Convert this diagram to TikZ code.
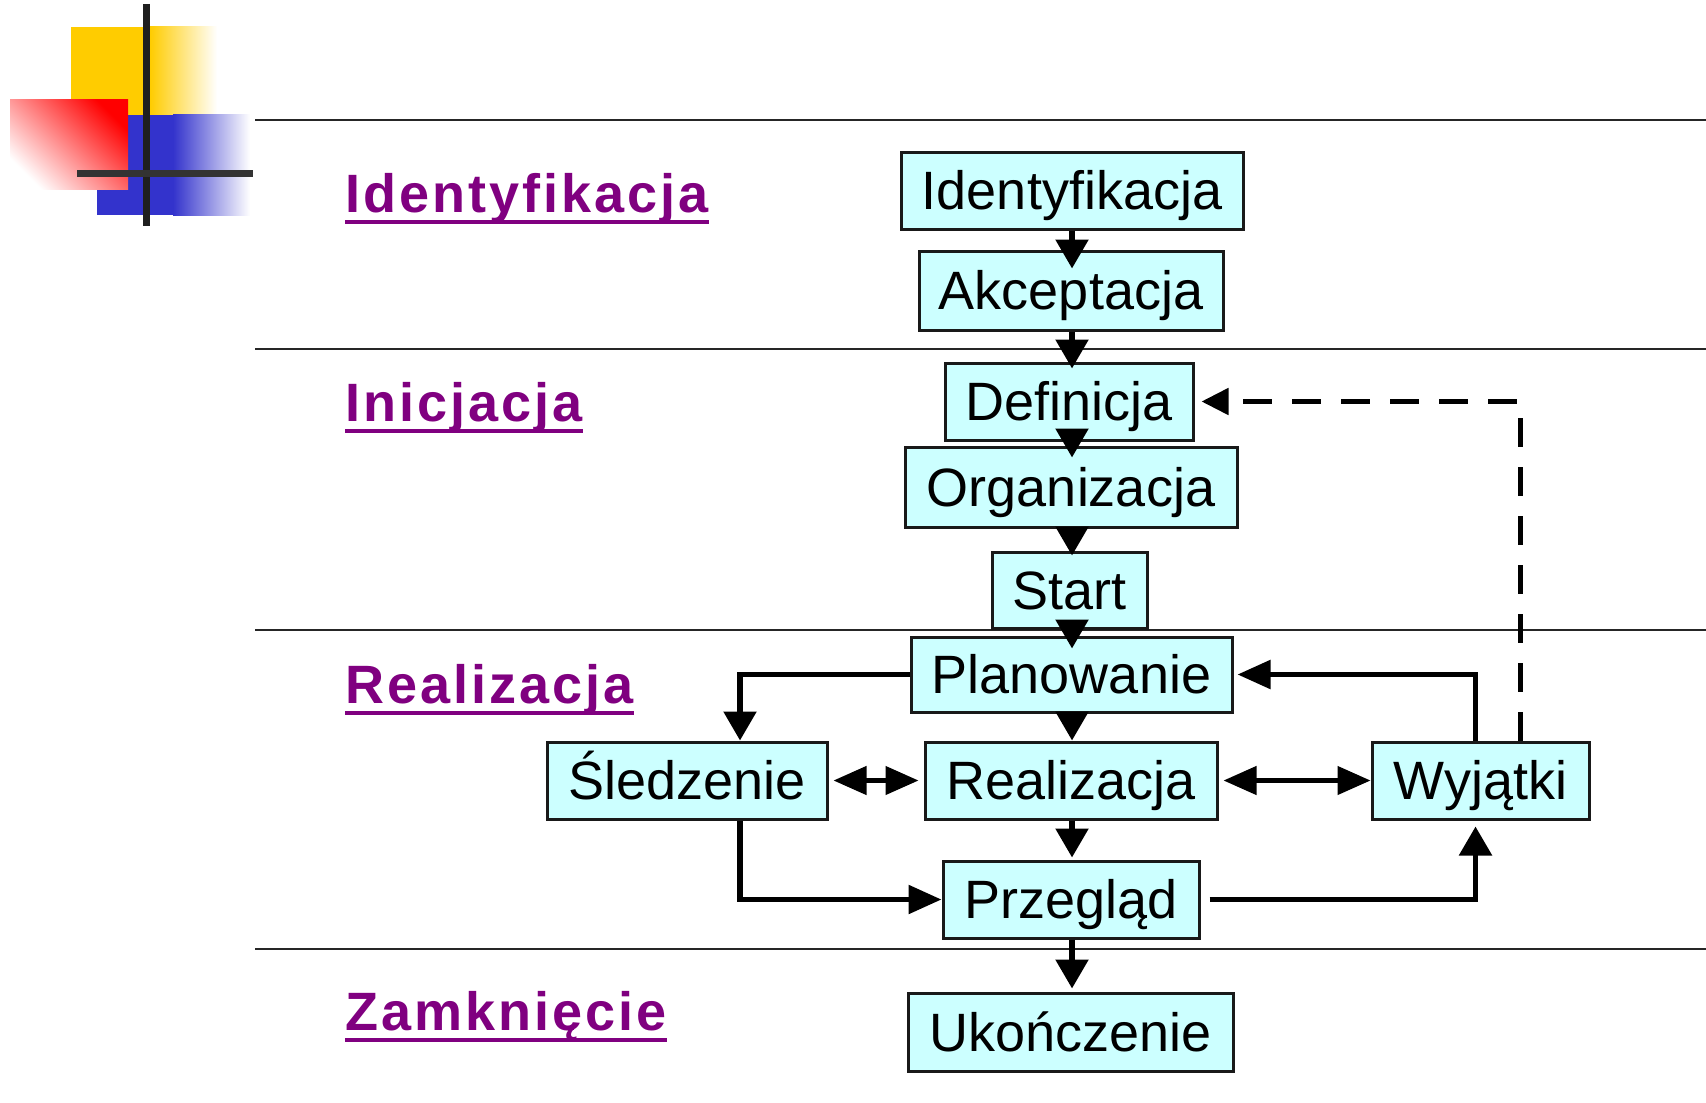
\documentclass[tikz,border=0pt]{standalone}
\usepackage{fontspec}
\setmainfont{Liberation Sans}
\newfontfamily\phasefont[LetterSpace=5.5]{Liberation Sans}
\usetikzlibrary{arrows.meta}
\definecolor{boxfill}{HTML}{CCFFFF}
\definecolor{phasecol}{RGB}{128,0,128}
\definecolor{logoyellow}{HTML}{FFCC00}
\definecolor{logoblue}{HTML}{3333CC}
\definecolor{logored}{HTML}{FF0000}
\begin{document}
\begin{tikzpicture}[x=0.5pt,y=-0.5pt,
  stepbox/.style={draw=black!90, line width=1.5pt, fill=boxfill, inner sep=0pt,
    font=\fontsize{27}{32}\selectfont, text height=19.3pt, text depth=0pt},
  phaselabel/.style={text=phasecol, font=\phasefont\bfseries\fontsize{27}{32}\selectfont,
    anchor=base west, inner sep=0pt},
  uline/.style={draw=phasecol, line width=2pt},
  sepline/.style={draw=black!85, line width=1.2pt},
  vflow/.style={line width=2.75pt, -{Triangle[length=14.5pt,width=16pt]}},
  hflow/.style={line width=2.75pt, -{Triangle[length=16.5pt,width=14pt]}},
  hboth/.style={line width=2.25pt, {Triangle[length=16.5pt,width=14pt]}-{Triangle[length=16.5pt,width=14pt]}},
  dflow/.style={line width=2.5pt, dash pattern=on 14.5pt off 10pt, -{Triangle[length=13.5pt,width=13pt]}}
]
\fill[white] (0,0) rectangle (1706,1102);
\useasboundingbox (0,0) rectangle (1706,1102);

% logo
\fill[logoyellow] (71,27) rectangle (150.5,115);
\shade[left color=logoyellow, right color=white] (150,27) rectangle (217,115);
\fill[logoblue] (97,115) rectangle (173.5,215);
\shade[left color=logoblue, right color=white] (173,115) rectangle (250,215);
\shade[top color=logored, bottom color=white, shading angle=-45] (10,100) rectangle (128,189);
\draw[line width=3.5pt, black!88] (146.5,4) -- (146.5,226);
\draw[line width=3.5pt, black!80] (77,173.5) -- (253,173.5);

% separator lines
\draw[sepline] (255,120) -- (1706,120);
\draw[sepline] (255,349) -- (1706,349);
\draw[sepline] (255,630) -- (1706,630);
\draw[sepline] (255,949) -- (1706,949);

% phase labels
\node[phaselabel] (pIdent) at (345,212) {Identyfikacja};
\node[phaselabel] (pInic) at (345,421) {Inicjacja};
\node[phaselabel] (pReal) at (345,703) {Realizacja};
\node[phaselabel] (pZamk) at (345,1030) {Zamknięcie};
\foreach \p in {pIdent,pInic,pReal,pZamk}
  \draw[uline] ([yshift=-5pt]\p.base west) -- ([yshift=-5pt]\p.base east);

% boxes
\node[stepbox, minimum width=171pt, minimum height=38.5pt] (ident) at (1072,190.5) {Identyfikacja};
\node[stepbox, minimum width=152pt, minimum height=39.5pt] (akcept) at (1071,290.5) {Akceptacja};
\node[stepbox, minimum width=124pt, minimum height=38.5pt] (def) at (1069,401.5) {Definicja};
\node[stepbox, minimum width=166pt, minimum height=40pt] (org) at (1071,487) {Organizacja};
\node[stepbox, minimum width=77.5pt, minimum height=38pt] (start) at (1069.5,590) {Start};
\node[stepbox, minimum width=160.5pt, minimum height=37.5pt] (plan) at (1071.5,674.5) {Planowanie};
\node[stepbox, minimum width=140pt, minimum height=38.5pt] (sled) at (687,780.5) {Śledzenie};
\node[stepbox, minimum width=146pt, minimum height=38.5pt] (real) at (1071,780.5) {Realizacja};
\node[stepbox, minimum width=108.5pt, minimum height=38.5pt] (wyj) at (1480.5,780.5) {Wyjątki};
\node[stepbox, minimum width=128pt, minimum height=38.5pt] (przeg) at (1071,899.5) {Przegląd};
\node[stepbox, minimum width=162.5pt, minimum height=39pt] (ukon) at (1070.5,1032) {Ukończenie};

% vertical flow
\coordinate (axis) at (1072,0);
\draw[vflow, shorten >=-9.5pt] (ident.south -| axis) -- (akcept.north -| axis);
\draw[vflow, shorten >=-3.5pt] (akcept.south -| axis) -- (def.north -| axis);
\draw[vflow, shorten <=-5pt, shorten >=-6pt] (def.south -| axis) -- (org.north -| axis);
\draw[vflow, shorten >=-2.5pt] (org.south -| axis) -- (start.north -| axis);
\draw[vflow, shorten >=-6.5pt] (start.south -| axis) -- (plan.north -| axis);
\draw[vflow] (plan.south -| axis) -- (real.north -| axis);
\draw[vflow, shorten >=1pt] (real.south -| axis) -- (przeg.north -| axis);
\draw[vflow, shorten >=1.5pt] (przeg.south -| axis) -- (ukon.north -| axis);

% realization loop
\draw[vflow] (plan.west) -| ([xshift=26.5pt]sled.north);
\draw[hboth, shorten <=2.5pt, shorten >=2.5pt] (sled.east) -- (real.west);
\draw[hboth, shorten <=2.5pt] (real.east) -- (wyj.west);
\draw[hflow, shorten >=2pt] ([xshift=-2.5pt]wyj.north) |- (plan.east);
\draw[hflow] ([xshift=26.5pt]sled.south) |- (przeg.west);
\draw[vflow, shorten >=3pt] ([xshift=4.5pt]przeg.east) -| ([xshift=-2.5pt]wyj.south);
\draw[dflow, shorten >=3.5pt] ([xshift=20pt]wyj.north) |- (def.east);
\end{tikzpicture}
\end{document}
